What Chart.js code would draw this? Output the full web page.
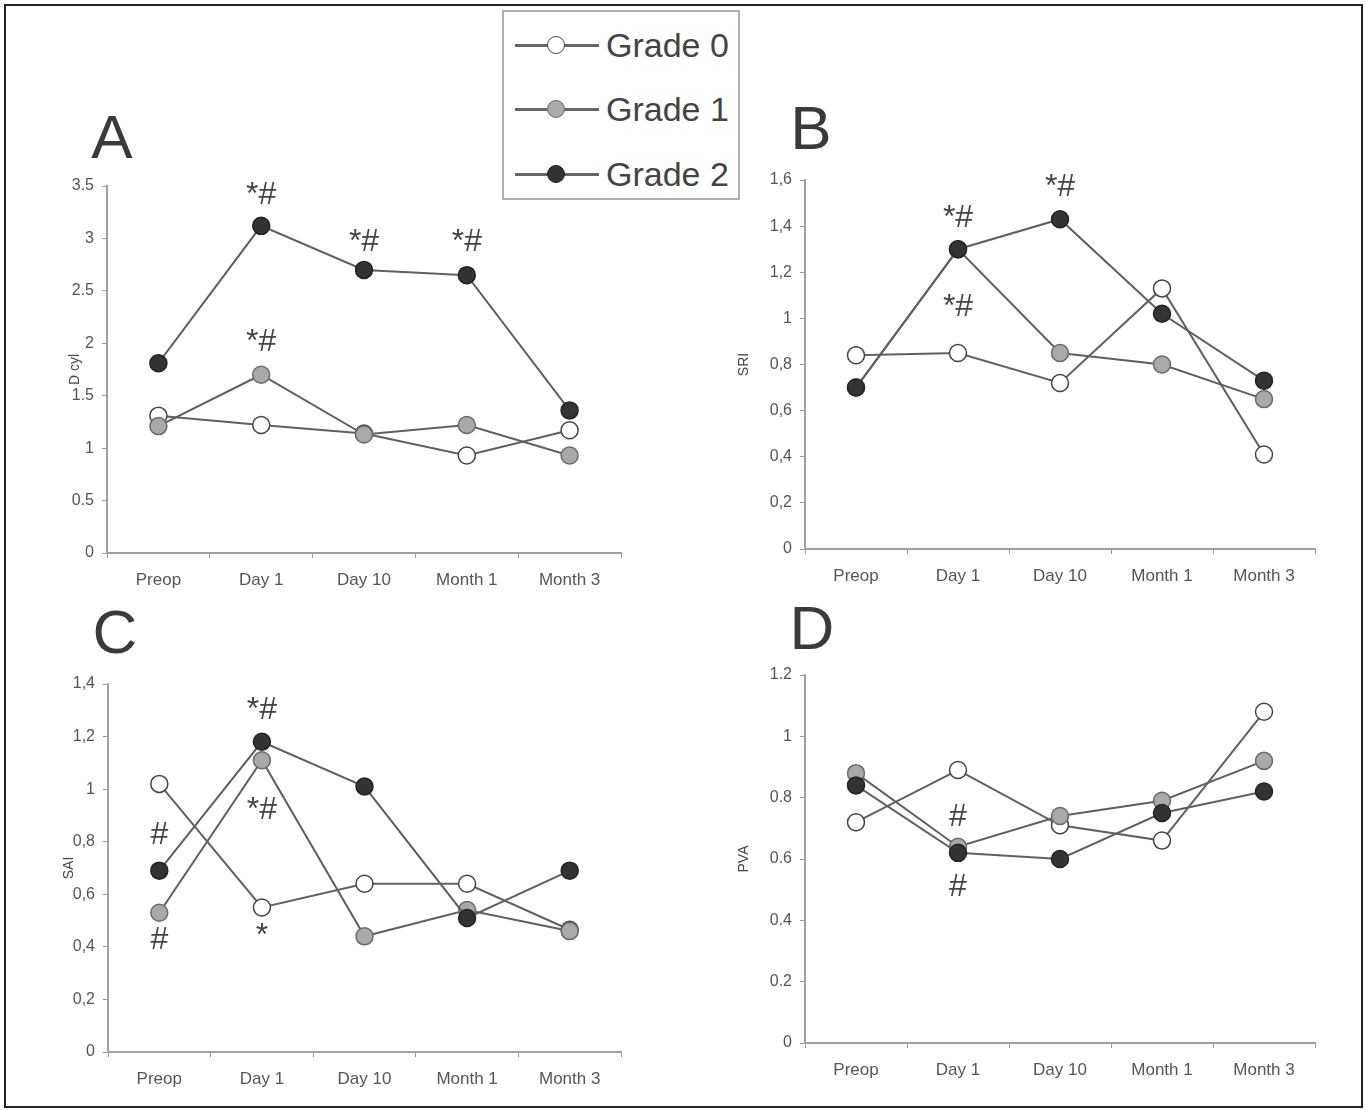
<!DOCTYPE html>
<html>
<head>
<meta charset="utf-8">
<script src="https://cdn.jsdelivr.net/npm/chart.js@4.4.1/dist/chart.umd.min.js"></script>
<style>
body { margin:0; background:#fff; width:1365px; height:1110px; position:relative; overflow:hidden; font-family:'Liberation Sans', Arial, sans-serif; }
.frame { position:absolute; left:4px; top:4px; width:1359px; height:1104px; border:2px solid #222; box-sizing:border-box; }
.panel { position:absolute; }
.letter { position:absolute; font-size:62px; color:#3a3a3a; transform:translate(-50%,-50%); line-height:1; }
#legend { position:absolute; left:502px; top:10px; width:238px; height:190px; border:2px solid #b0b0b0; box-sizing:border-box; background:#fff; }
.row { position:absolute; left:0; width:100%; height:0; }
.row .ln { position:absolute; left:11px; top:-1px; width:84px; height:3px; background:#666; }
.row .dot { position:absolute; left:43px; top:-9px; width:16px; height:16px; border-radius:50%; border:1.5px solid #444; }
.row .txt { position:absolute; left:102px; top:-20px; font-size:34px; line-height:40px; color:#444; white-space:nowrap; }
</style>
</head>
<body>
<div class="frame"></div>

<script>
const categories = ['Preop', 'Day 1', 'Day 10', 'Month 1', 'Month 3'];
const seriesNames = ['Grade 0', 'Grade 1', 'Grade 2'];

// A - D cyl
const dcylGrade0 = [1.31, 1.22, 1.14, 0.93, 1.17];
const dcylGrade1 = [1.21, 1.70, 1.13, 1.22, 0.93];
const dcylGrade2 = [1.81, 3.12, 2.70, 2.65, 1.36];
const dcylTicks = [0, 0.5, 1, 1.5, 2, 2.5, 3, 3.5];
const dcylMarks = [[1, 3.41, '*#'], [2, 2.96, '*#'], [3, 2.96, '*#'], [1, 2.01, '*#']];

// B - SRI
const sriGrade0 = [0.84, 0.85, 0.72, 1.13, 0.41];
const sriGrade1 = [0.70, 1.30, 0.85, 0.80, 0.65];
const sriGrade2 = [0.70, 1.30, 1.43, 1.02, 0.73];
const sriTicks = [0, 0.2, 0.4, 0.6, 0.8, 1, 1.2, 1.4, 1.6];
const sriMarks = [[1, 1.435, '*#'], [2, 1.57, '*#'], [1, 1.05, '*#']];

// C - SAI
const saiGrade0 = [1.02, 0.55, 0.64, 0.64, 0.465];
const saiGrade1 = [0.53, 1.11, 0.44, 0.54, 0.46];
const saiGrade2 = [0.69, 1.18, 1.01, 0.51, 0.69];
const saiTicks = [0, 0.2, 0.4, 0.6, 0.8, 1, 1.2, 1.4];
const saiMarks = [[0, 0.825, '#'], [0, 0.426, '#'], [1, 1.30, '*#'], [1, 0.92, '*#'], [1, 0.44, '*']];

// D - PVA
const pvaGrade0 = [0.72, 0.89, 0.71, 0.66, 1.08];
const pvaGrade1 = [0.88, 0.64, 0.74, 0.79, 0.92];
const pvaGrade2 = [0.84, 0.62, 0.60, 0.75, 0.82];
const pvaTicks = [0, 0.2, 0.4, 0.6, 0.8, 1, 1.2];
const pvaMarks = [[1, 0.737, '#'], [1, 0.509, '#']];

Chart.defaults.font.family = "'Liberation Sans', Arial, sans-serif";

const fills = ['#ffffff', '#a9a9a9', '#333333'];
const edges = ['#444444', '#6a6a6a', '#222222'];

const panels = [
    { letter: 'A', title: 'D cyl', series: [dcylGrade0, dcylGrade1, dcylGrade2], ticks: dcylTicks, marks: dcylMarks, comma: false,
      box: { left: 107, top: 186, right: 621, bottom: 553 }, titlePad: 40, letterAt: [112, 137] },
    { letter: 'B', title: 'SRI', series: [sriGrade0, sriGrade1, sriGrade2], ticks: sriTicks, marks: sriMarks, comma: true,
      box: { left: 805, top: 180, right: 1315, bottom: 549 }, titlePad: 11, letterAt: [811, 128] },
    { letter: 'C', title: 'SAI', series: [saiGrade0, saiGrade1, saiGrade2], ticks: saiTicks, marks: saiMarks, comma: true,
      box: { left: 108, top: 684, right: 621, bottom: 1052 }, titlePad: 33, letterAt: [115, 632] },
    { letter: 'D', title: 'PVA', series: [pvaGrade0, pvaGrade1, pvaGrade2], ticks: pvaTicks, marks: pvaMarks, comma: false,
      box: { left: 805, top: 675, right: 1315, bottom: 1043 }, titlePad: 11, letterAt: [812, 628] }
];

function fmt(v, comma) {
    var s = String(+v.toFixed(1));
    return comma ? s.replace('.', ',') : s;
}

panels.forEach(function (p) {
    var div = document.createElement('div');
    div.className = 'panel';
    var w = p.box.right - p.box.left + 90;
    var h = p.box.bottom - p.box.top + 70;
    div.style.left = (p.box.left - 80) + 'px';
    div.style.top = (p.box.top - 20) + 'px';
    div.style.width = w + 'px';
    div.style.height = h + 'px';
    var canvas = document.createElement('canvas');
    canvas.width = w;
    canvas.height = h;
    div.appendChild(canvas);
    document.body.appendChild(div);

    var lab = document.createElement('div');
    lab.className = 'letter';
    lab.textContent = p.letter;
    lab.style.left = p.letterAt[0] + 'px';
    lab.style.top = p.letterAt[1] + 'px';
    document.body.appendChild(lab);

    var datasets = p.series.map(function (vals, i) {
        return {
            label: seriesNames[i],
            data: vals,
            order: 2 - i,
            borderColor: '#606060',
            borderWidth: 2,
            tension: 0,
            pointRadius: 8.5,
            pointBorderWidth: 1.5,
            pointBackgroundColor: fills[i],
            pointBorderColor: edges[i]
        };
    });

    var marksPlugin = {
        id: 'marks',
        afterDatasetsDraw: function (chart) {
            var ctx = chart.ctx, xs = chart.scales.x, ys = chart.scales.y;
            ctx.save();
            ctx.font = "32px 'Liberation Sans', Arial, sans-serif";
            ctx.fillStyle = '#444';
            ctx.textAlign = 'center';
            ctx.textBaseline = 'middle';
            p.marks.forEach(function (m) {
                ctx.fillText(m[2], xs.getPixelForValue(m[0]), ys.getPixelForValue(m[1]));
            });
            ctx.restore();
        }
    };

    new Chart(canvas, {
        type: 'line',
        data: { labels: categories, datasets: datasets },
        options: {
            responsive: false,
            animation: false,
            layout: { padding: { top: 20, right: 10, left: 0, bottom: 0 } },
            plugins: { legend: { display: false }, tooltip: { enabled: false } },
            scales: {
                x: {
                    offset: true,
                    afterFit: function (s) { s.height = 50; },
                    border: { color: '#a0a0a0', width: 2 },
                    grid: { offset: true, drawOnChartArea: false, tickLength: 5, color: '#999' },
                    ticks: { color: '#555', font: { size: 17 }, padding: 12, maxRotation: 0 }
                },
                y: {
                    min: p.ticks[0],
                    max: p.ticks[p.ticks.length - 1],
                    afterFit: function (s) { s.width = 80; },
                    afterBuildTicks: function (s) { s.ticks = p.ticks.map(function (v) { return { value: v }; }); },
                    border: { color: '#a0a0a0', width: 2 },
                    grid: { drawOnChartArea: false, tickLength: 5, color: '#999' },
                    ticks: { color: '#555', font: { size: 16 }, padding: 8, callback: function (v) { return fmt(v, p.comma); } },
                    title: { display: true, text: p.title, color: '#444', font: { size: 14 }, padding: { top: p.titlePad, bottom: 0 } }
                }
            }
        },
        plugins: [marksPlugin]
    });
});

// legend box
var legend = document.createElement('div');
legend.id = 'legend';
var rowY = [33, 97, 162];
seriesNames.forEach(function (name, i) {
    var row = document.createElement('div');
    row.className = 'row';
    row.style.top = rowY[i] + 'px';
    var ln = document.createElement('div');
    ln.className = 'ln';
    var dot = document.createElement('div');
    dot.className = 'dot';
    dot.style.background = fills[i];
    dot.style.borderColor = edges[i];
    var txt = document.createElement('div');
    txt.className = 'txt';
    txt.textContent = name;
    row.appendChild(ln);
    row.appendChild(dot);
    row.appendChild(txt);
    legend.appendChild(row);
});
document.body.appendChild(legend);
</script>
</body>
</html>
